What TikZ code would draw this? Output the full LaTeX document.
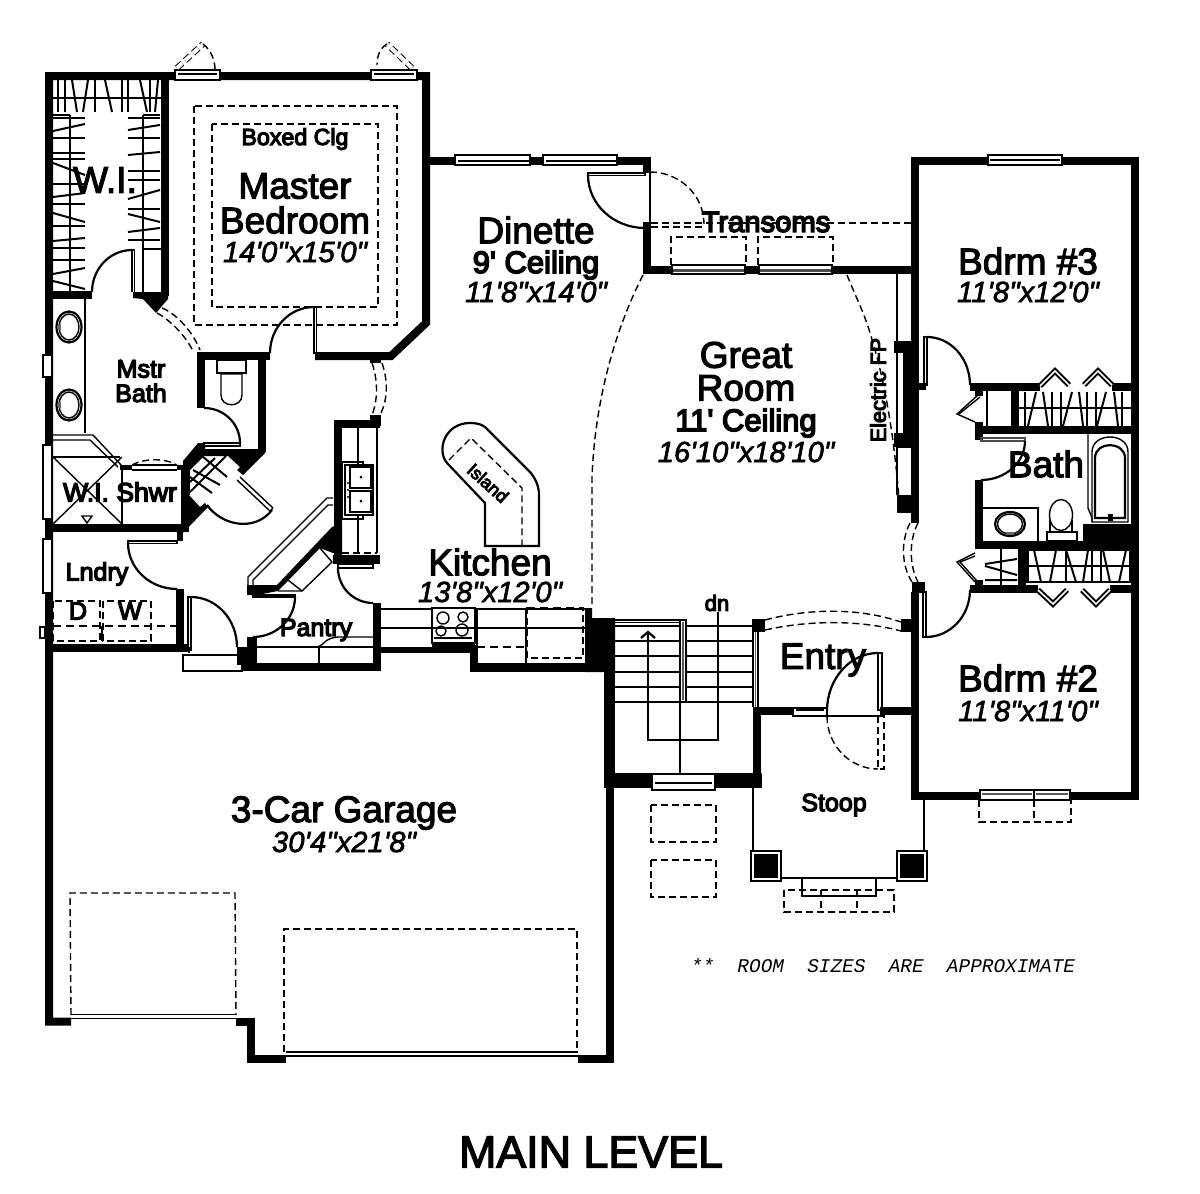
\documentclass[tikz,border=0pt]{standalone}
\usepackage{fontspec}
\setmainfont{Liberation Sans}
\newfontfamily\lf[FakeBold=3]{Liberation Sans}
\newfontfamily\lfs[FakeBold=5]{Liberation Sans}
\newfontfamily\lfi[FakeBold=2,ItalicFont={Liberation Sans Italic},ItalicFeatures={FakeBold=2}]{Liberation Sans}
\newfontfamily\lfm{Liberation Mono}
\tikzset{
 wall/.style={line width=4pt,line join=miter,line cap=butt},
 thinl/.style={line width=0.7pt},
 medl/.style={line width=1.1pt},
 dsh/.style={line width=0.7pt,dash pattern=on 3.5pt off 2pt},
 dshb/.style={line width=1.2pt,dash pattern=on 4pt off 2.5pt},
 win/.style={draw,fill=white,line width=0.6pt},
 hash/.style={line width=1pt},
 txt/.style={inner sep=0pt,text=black},
 big/.style={txt,font=\lf\fontsize{18.5}{18.5}\selectfont},
 ceil/.style={txt,font=\lfs\fontsize{15.5}{15.5}\selectfont},
 mid/.style={txt,font=\lfs\fontsize{12.5}{12.5}\selectfont},
 dims/.style={txt,font=\lfi\itshape\fontsize{14.6}{14.6}\selectfont},
}
\begin{document}
\begin{tikzpicture}[x=0.5pt,y=-0.5pt]
\useasboundingbox (0,0) rectangle (1200,1194);
\fill[white] (0,0) rectangle (1200,1194);
% ---------- main walls
\draw[wall] (71,1021.5)--(49,1021.5)--(49,76)--(426,76)--(426,323)--(391,356)--(315,356);
\draw[wall] (270,356)--(197,356);
\draw[wall] (201,356)--(201,408);
\draw[wall] (262,352)--(262,452);
\draw[wall] (165,76)--(165,296);
\draw[wall] (49,295)--(92,295);
\fill (133,292)--(168,292)--(168,299)--(156,313)--(143,299)--(133,298)--cycle;
\draw[wall] (49,528)--(185,528)--(185,465);
\fill (120,465) rectangle (132,470);
\fill (177,465) rectangle (189,470);
\draw[wall] (49,648)--(188,648);
\draw[wall] (180,589)--(180,652);
\fill (177,532) rectangle (183,541);
% top right walls
\draw[wall] (426,161)--(651,161);
\draw[wall] (647,157)--(647,173);
\draw[wall] (647,228)--(647,270)--(912,270);
\draw[wall] (915,523)--(915,161)--(1135,161)--(1135,796)--(915,796)--(915,592);
% bedroom 3 closets
\fill (919,383) rectangle (926,390);
\draw[wall] (970,387)--(1040,387);
\draw[wall] (1112,387)--(1135,387);
\draw[wall] (975,430)--(1135,430);
\draw[wall] (1015,390)--(1015,426);
\fill (975,391) rectangle (983,396);
\fill (975,422) rectangle (983,440);
% bath & bedroom 2 closets
\draw[wall] (975,545)--(1135,545);
\draw[wall] (979,480)--(979,549);
\fill (1083,524) rectangle (1135,548);
\draw[wall] (970,589)--(1038,589);
\draw[wall] (1110,589)--(1135,589);
\draw[wall] (1022,545)--(1022,590);
\fill (975,580) rectangle (983,589);
\fill (912,582) rectangle (925,593);
% fireplace
\fill (894,341) rectangle (912,353);
\fill (903,353) rectangle (912,433);
\fill (894,433) rectangle (912,447);
\fill (897,495) rectangle (912,513);
\draw[thinl] (897,274)--(897,341);
\draw[thinl] (897,353)--(897,433);
\draw[thinl] (897,447)--(897,495)  (897,447)--(912,447);
% entry / stair
\fill (752,619) rectangle (765,632);
\fill (901,619) rectangle (912,632);
\draw[wall] (757,707)--(757,788);
\draw[wall] (753,711)--(793,711);
\draw[wall] (880,711)--(912,711);
\fill (604,672) rectangle (615,788);
\fill (604,773) rectangle (762,788);
\draw[wall] (610,788)--(610,1058.5)--(578,1058.5);
\draw[wall] (286,1058.5)--(251,1058.5)--(251,1021.5)--(236,1021.5);
\fill (586,608)--(592,608)--(592,618)--(615,618)--(615,672)--(586,672)--cycle;
% kitchen
\fill (470,645) rectangle (477,672);
\fill (470,663) rectangle (590,672);
\fill (381,647) rectangle (477,653);
\fill (432,643) rectangle (475,647);
% pantry & laundry
\draw[wall] (242,667)--(377,667)--(377,603);
\fill (377,647) rectangle (381,653);
\fill (247,637) rectangle (257,665);
\fill (237,647) rectangle (256,665);
\fill (188,647) rectangle (190,653);
\fill (247,585)--(277,585)--(332,527)--(342,523)--(342,553)--(333,553)--(320,548)--(278,591)--(257,595)--(247,595)--cycle;
\draw[wall] (338,420)--(338,555);
\fill (334,420) rectangle (380,428);
\fill (333,555) rectangle (380,564);
% stair door wedges
\fill (198,443)--(205,443)--(205,449)--(265,449)--(265,453)--(243,475)--(237,470)--(240,467)--(228,456)--(204,456)--(189,471)--(183,467)--(183,461)--cycle;
\fill (189,495)--(200,507)--(205,503)--(208,507)--(183,533)--(177,533)--(177,528)--(185,525)--cycle;
\draw[thinl] (189,471)--(189,495);
% ---------- windows
\foreach \a/\b in {175/220,371/417}{
 \draw[win] (\a,70) rectangle (\b,80);
 \draw[thinl] (\a+3,74)--(\b-3,74);}
\foreach \a/\b in {455/530,543/617}{
 \draw[win] (\a,155) rectangle (\b,165);
 \draw[thinl,line width=1.2pt] (\a+3,161)--(\b-1,161);}
\foreach \a/\b in {672/745,759/832}{
 \draw[win] (\a,265) rectangle (\b,274);
 \draw[line width=1.4pt,black!70] (\a+1,270.5)--(\b-1,270.5);}
\draw[win] (988,155) rectangle (1062,165);
\draw[thinl] (990,160)--(1060,160);
\draw[win] (980,790) rectangle (1070,800);
\draw[line width=1.4pt,black!65] (982,794)--(1032,794) (1036,794)--(1068,794);
\draw[thinl] (1034,790)--(1034,800);
\draw[win] (652,774) rectangle (715,790);
\draw[line width=1.2pt] (655,783)--(712,783);
\draw[win] (793,708) rectangle (827,716);
\draw[line width=1.2pt] (796,710)--(824,710);
\draw[win] (43,355) rectangle (52,377);
\draw[win] (43,445) rectangle (52,519);
\draw[win] (43,539) rectangle (52,593);
\draw[win] (40,627) rectangle (45,638);
% garage doors
\draw[dsh] (71,1015)--(70,893)--(235,893)--(236,1015);
\draw[thinl] (71,1014.5)--(236,1014.5) (71,1018.5)--(236,1018.5);
\draw[dsh] (284,1052)--(284,929)--(577,929)--(577,1052);
\draw[thinl] (286,1052)--(578,1052) (286,1056)--(578,1056);
% ---------- top doors
\draw[dsh,double,double distance=2pt,line width=0.5pt] (177,68)--(203,44);
\draw[dsh] (203,44) .. controls (211,50) and (215,60) .. (215,70);
\draw[dsh,double,double distance=2pt,line width=0.5pt] (412,68)--(387,44);
\draw[dsh] (387,44) .. controls (380,48) and (377,56) .. (377,65);
% ---------- WI closet
\draw[thinl] (53,98)--(161,98);
\draw[thinl] (70,115)--(70,292);
\draw[thinl] (143,115)--(143,292);
\draw[thinl] (53,115)--(70,115);
\draw[thinl] (143,115)--(160,115);
\draw[thinl] (143,249)--(161,249);
\foreach \a/\b in {58/58,65/65,72/77,88/83,95/95,105/112,122/122,128/128,140/147,150/150,158/155}{
 \draw[hash] (\a,80)--(\b,112);}
\foreach \a/\b in {118/118,131/124,138/138,153/153,159/159,163/175,184/184,197/193,204/204,213/222,226/226,241/238,260/260,274/268,281/289,248/248}{
 \draw[hash] (53,\a)--(85,\b);}
\foreach \a/\b in {118/118,130/125,138/138,155/152,171/171,180/180,199/190,209/209,214/222,232/228,240/240}{
 \draw[hash] (128,\a)--(160,\b);}
% WI door
\draw[thinl] (132,250)--(132,292) (134.5,250)--(134.5,292) (132,250)--(134.5,250);
\draw[medl] (92,292) arc (180:270:40 and 42);
% ---------- master bath
\draw[thinl] (85,297)--(85,433);
\foreach \y in {327,405}{
 \draw[medl] (69,\y) ellipse (12.5 and 15.5);
 \draw[thinl] (69,\y) ellipse (10 and 13);
 \fill[black!60] (58,\y-3) rectangle (61,\y+3);}
% mstr bedroom door & dash
\draw[thinl] (314,307) rectangle (316.5,353);
\draw[medl] (314,307) arc (-90:-180:44 and 46);
\draw[dsh] (194,106) rectangle (397,325);
\draw[dsh] (212,124) rectangle (378,307);
\draw[dsh] (162,308) .. controls (175,313) and (192,330) .. (200,350);
\draw[dsh] (157,313) .. controls (170,320) and (185,335) .. (193,351);
% toilet mbath
\draw[thinl] (217,360) rectangle (246,373);
\draw[thinl] (221,374) -- (242,374) -- (242,395) .. controls (242,408) and (221,408) .. (221,395) -- cycle;
\draw[thinl] (204,443) rectangle (240,446);
\draw[medl] (240,443) arc (0:-90:36 and 35);
% kitchen passage arcs
\fill (370,358) rectangle (381,363);
\fill (370,415) rectangle (381,426);
\draw[dsh] (372,363) .. controls (378,380) and (378,400) .. (372,415);
\draw[dsh] (382,363) .. controls (388,380) and (388,400) .. (380,415);
% ---------- shower
\draw[thinl] (53,435)--(93,435)--(123,467);
\draw[thinl] (53,440)--(90,440)--(118,467);
\draw[thinl] (53,457)--(120,457);
\draw[thinl] (53,457)--(122,524) (122,457)--(53,524);
\draw[thinl] (122,467)--(122,524);
\draw[thinl] (132,465)--(177,465) (132,470)--(177,470);
\draw[dsh] (132,465) .. controls (145,458) and (165,458) .. (177,465);
\draw[thinl] (82,516)--(92,516)--(87,523)--cycle;
% stair hatch + door
\draw[hash] (202,456)--(227,477) (193,470)--(220,485) (190,477)--(212,493) (226,456)--(190,492) (215,458)--(190,482);
\draw[thinl] (240,477)--(273,508) (237,480)--(270,511);
\draw[thinl] (273,508)--(270,511);
\draw[medl] (207,505) .. controls (222,526) and (255,532) .. (272,510);
% ---------- laundry
\draw[thinl] (128,541) rectangle (177,543.5);
\draw[medl] (128,543) arc (180:90:49 and 46);
\draw[dsh] (53,601) rectangle (100,641);
\draw[dsh] (103,601) rectangle (151,641);
\draw[dshb] (53,626)--(176,626);
\draw[thinl] (102,626)--(102,641);
% garage door
\draw[thinl] (188,597) rectangle (191,650);
\draw[medl] (191,597) arc (-90:0:46 and 50);
\draw[thinl] (183,655) rectangle (242,671);
% ---------- pantry
\draw[thinl] (253,595) rectangle (295,597);
\draw[medl] (295,597) arc (0:90:42 and 40);
\draw[thinl] (248,585)--(248,577)--(327,498)--(333,498);
\draw[thinl] (253,585)--(253,580)--(328,505)--(333,505);
\draw[thinl] (320,548)--(332,562)--(302,591)--(278,591);
\draw[thinl] (288,580)--(302,591);
\draw[thinl] (257,647)--(373,647) (319,647)--(319,663);
\draw[thinl] (318,647) .. controls (325,644) and (325,638) .. (338,637)--(373,637);
% ---------- sink counter
\draw[thinl] (377,428)--(377,553);
\draw[thinl] (358,428)--(358,553);
\draw[dsh] (342,553)--(377,553);
\draw[thinl] (342,462) rectangle (363,519);
\draw[thinl,fill=white] (345,465) rectangle (373,515);
\draw[thinl] (350,467) rectangle (371,488);
\draw[thinl] (350,491) rectangle (371,512);
\fill (361,477) circle (1.5) (361,501) circle (1.5);
\foreach \y in {483,490,497}{\fill (348,\y) circle (1.2);}
\draw[thinl] (342,462)--(342,519) (363,462)--(363,465) (363,515)--(363,519);
\draw[thinl] (338,564) rectangle (373,568);
\draw[medl] (338,568) arc (180:90:35);
% ---------- kitchen counter
\draw[medl] (381,609)--(432,609) (475,609)--(586,609);
\draw[medl] (381,628)--(432,628) (475,628)--(586,628);
\draw[medl] (477,609)--(477,663);
\draw[medl] (526,609)--(526,663);
\draw[thinl] (586,609)--(586,663);
\draw[dshb] (477,647)--(526,647);
\draw[dsh] (527,607)--(527,658)--(583,658)--(583,607);
\draw[dshb] (527,608)--(583,608);
\draw[medl] (432,608) rectangle (475,643);
\draw[thinl] (432,628)--(475,628);
\draw[thinl] (443,618) circle (6) (463,617) circle (5) (441,631) circle (5) (462,630) circle (6);
\draw[thinl] (434,638)--(472,638);
% island
\draw[medl] (485,546)--(485,503)--(447,463) .. controls (436,450) and (445,423) .. (470,423) .. controls (480,423) and (485,426) .. (488,430)--(530,472) .. controls (536,479) and (539,487) .. (539,495)--(539,546)--cycle;
\draw[dsh] (449,460)--(471,438)--(522,488)--(522,546);
% ---------- stairs
\foreach \y in {626,641,656,672,687,702}{\draw[medl] (615,\y)--(752,\y);}
\draw[thinl] (615,620)--(683,620) (615,622.5)--(683,622.5);
\draw[win] (680,620) rectangle (686,702);
\draw[black!65,line width=1.2pt] (683,622)--(683,700);
\draw[thinl] (680,702)--(680,773);
\draw[medl] (641,638)--(648,632)--(655,638);
\draw[thinl] (648,632)--(648,740)--(718,740)--(718,612);
\draw[thinl] (753,632)--(753,707) (758,632)--(758,707);
\draw[black!60,line width=0.9pt] (755.5,632)--(755.5,707);
% ---------- entry
\draw[dsh] (765,620) .. controls (810,608) and (860,608) .. (901,622);
\draw[dsh] (765,630) .. controls (810,620) and (860,620) .. (901,631);
\draw[thinl] (878,653) rectangle (882,710);
\draw[medl] (878,653) arc (-90:-180:51 and 58);
\draw[thinl] (827,716)--(882,716);
\draw[dsh] (827,716) arc (180:90:51 and 53);
\draw[dsh] (878,716) rectangle (884,769);
% ---------- stoop
\draw[medl] (753,788)--(753,851);
\draw[medl] (924,800)--(924,851);
\fill (754,854) rectangle (778,878);
\fill (900,854) rectangle (924,878);
\draw[thinl] (751,851) rectangle (781,881);
\draw[thinl] (897,851) rectangle (927,881);
\draw[medl] (781,878)--(897,878);
\draw[medl] (802,878)--(802,896)--(876,896)--(876,878);
\draw[dsh] (784,890) rectangle (894,912);
\draw[dsh] (821,890)--(821,912) (857,890)--(857,912);
\draw[dsh] (651,805) rectangle (716,842);
\draw[dsh] (651,860) rectangle (716,897);
% ---------- great room dashes and dinette door
\draw[dsh] (643,275) .. controls (615,330) and (595,400) .. (592,477)--(592,607);
\draw[dsh] (847,275) .. controls (855,295) and (865,315) .. (870,333) .. controls (885,380) and (895,440) .. (900,512);
\draw[thinl] (588,173) rectangle (645,175.5);
\draw[medl] (588,175) arc (180:90:57 and 53);
\draw[thinl] (650,173)--(650,228);
\draw[dsh] (650,172) arc (-90:0:54 and 52);
\draw[dsh] (651,223)--(912,223);
\draw[dsh] (651,227)--(704,227);
\draw[dsh] (671,265)--(671,237)--(746,237)--(746,265);
\draw[dsh] (758,265)--(758,237)--(833,237)--(833,265);
\fill (643,222) rectangle (651,230);
% ---------- bedroom 3 closet
\draw[thinl] (924,337) rectangle (927,385);
\draw[medl] (927,337) arc (-90:0:43 and 48);
\draw[line width=1pt,double,double distance=0.8pt] (1040,386)--(1055,371)--(1069,385);
\draw[line width=1pt,double,double distance=0.8pt] (1084,385)--(1098,371)--(1112,385);
\draw[thinl] (1018,408)--(1131,408);
\foreach \a/\b in {1025/1025,1036/1028,1043/1048,1052/1052,1061/1061,1072/1063,1079/1083,1087/1087,1096/1096,1106/1097,1114/1118,1122/1122}{
 \draw[hash] (\a,392)--(\b,426);}
\draw[thinl] (987,391)--(987,426);
\draw[thinl] (978,395)--(957,414)--(975,422);
\draw[thinl] (980,397)--(959,414);
% bath
\draw[thinl,black!70,line width=1pt] (981,438) rectangle (1025,441);
\draw[medl] (1025,441) arc (0:90:44 and 39);
\draw[thinl] (1088,433)--(1088,508)--(1092,518)--(1092,522);
\draw[thinl] (1092,522)--(1092,452) .. controls (1092,432) and (1128,432) .. (1128,452)--(1128,522)--cycle;
\draw[medl] (1095,518)--(1095,458) .. controls (1095,441) and (1125,441) .. (1125,458)--(1125,518)--cycle;
\fill (1108,514) rectangle (1113,521);
\draw[thinl] (983,508)--(1038,508)--(1038,542);
\draw[medl] (1010,524) ellipse (15 and 12);
\draw[thinl] (1010,524) ellipse (12.5 and 10);
\fill[black!60] (1006,532) rectangle (1014,535);
\draw[thinl] (1061,515) ellipse (11.5 and 15.5);
\draw[thinl] (1050,520)--(1050,532) (1072,520)--(1072,532);
\draw[thinl] (1047,532) rectangle (1077,541);
% ---------- bedroom 2 closet
\draw[thinl] (923,592) rectangle (926,637);
\draw[medl] (926,637) arc (90:0:44 and 47);
\draw[line width=1pt,double,double distance=0.8pt] (1038,590)--(1053,604)--(1067,590);
\draw[line width=1pt,double,double distance=0.8pt] (1082,590)--(1096,604)--(1110,590);
\draw[thinl] (1027,566)--(1131,566);
\draw[thinl] (1027,550) rectangle (1131,582);
\foreach \a/\b in {1028/1028,1034/1041,1056/1050,1066/1066,1066/1076,1088/1083,1092/1092,1103/1110,1101/1101,1126/1119,1130/1130}{
 \draw[hash] (\a,550)--(\b,582);}
\draw[thinl] (1001,549)--(1001,585);
\draw[hash] (985,564)--(1017,559) (985,566)--(1017,575) (985,580)--(1017,580);
\draw[thinl] (975,553)--(957,562)--(975,582);
\draw[thinl] (975,556)--(960,562)--(977,581);
\draw[dsh] (979,800)--(979,822)--(1071,822)--(1071,800);
\draw[dsh] (1034,800)--(1034,822);
% bridge fp door gap
\draw[dsh] (910,523) .. controls (901,540) and (901,565) .. (912,582);
\draw[dsh] (918,523) .. controls (909,540) and (909,565) .. (918,582);
% ---------- text
\node[mid,font=\lfs\fontsize{11.6}{11.6}\selectfont] (t1) at (295,139) {Boxed Clg};
\node[big] (t2) at (295,186) {Master};
\node[big] (t3) at (295,220) {Bedroom};
\node[dims] (t4) at (295,252) {14'0"x15'0"};
\node[big] (t5) at (105,180) {W.I.};
\node[big] (t6) at (536,230) {Dinette};
\node[ceil] (t7) at (536,265) {9' Ceiling};
\node[dims] (t8) at (536,292) {11'8"x14'0"};
\node[big] (t9) at (746,355) {Great};
\node[big] (t10) at (746,388) {Room};
\node[ceil] (t11) at (746,423) {11' Ceiling};
\node[dims] (t12) at (746,452) {16'10"x18'10"};
\node[mid,font=\lfs\fontsize{10.8}{10.8}\selectfont,rotate=90] (t13) at (878,390) {Electric FP};
\node[txt,font=\lfs\fontsize{14.6}{14.6}\selectfont] (t14) at (766,222) {Transoms};
\node[big] (t15) at (1028,261) {Bdrm \#3};
\node[dims] (t16) at (1028,292) {11'8"x12'0"};
\node[big] (t17) at (1046,464) {Bath};
\node[big] (t18) at (1028,678) {Bdrm \#2};
\node[dims] (t19) at (1028,711) {11'8"x11'0"};
\node[mid] (t20) at (141,369) {Mstr};
\node[mid] (t21) at (141,393) {Bath};
\node[mid,font=\lfs\fontsize{13.3}{13.3}\selectfont] (t22) at (120,492) {W.I. Shwr};
\node[mid] (t23) at (97,574) {Lndry};
\node[mid] (t24) at (78,611) {D};
\node[mid] (t25) at (130,611) {W};
\node[mid] (t26) at (316,630) {Pantry};
\node[big] (t27) at (490,562) {Kitchen};
\node[dims] (t28) at (490,592) {13'8"x12'0"};
\node[txt,font=\lfs\fontsize{11}{11}\selectfont] (t29) at (717,603) {dn};
\node[big] (t30) at (823,660) {Entry};
\node[mid] (t31) at (834,805) {Stoop};
\node[big] (t32) at (344,813) {3-Car Garage};
\node[dims] (t33) at (344,842) {30'4"x21'8"};
\node[txt,font=\lfs\fontsize{9}{9}\selectfont,rotate=-42] (t34) at (488,483) {Island};
\node[txt,font=\lfm\itshape\fontsize{9.7}{9.7}\selectfont] (t35) at (883,966) {**\ \ ROOM\ \ SIZES\ \ ARE\ \ APPROXIMATE};
\node[txt,font=\lf\fontsize{22.4}{22.4}\selectfont] (t36) at (591,1152) {MAIN LEVEL};
\end{tikzpicture}
\end{document}
